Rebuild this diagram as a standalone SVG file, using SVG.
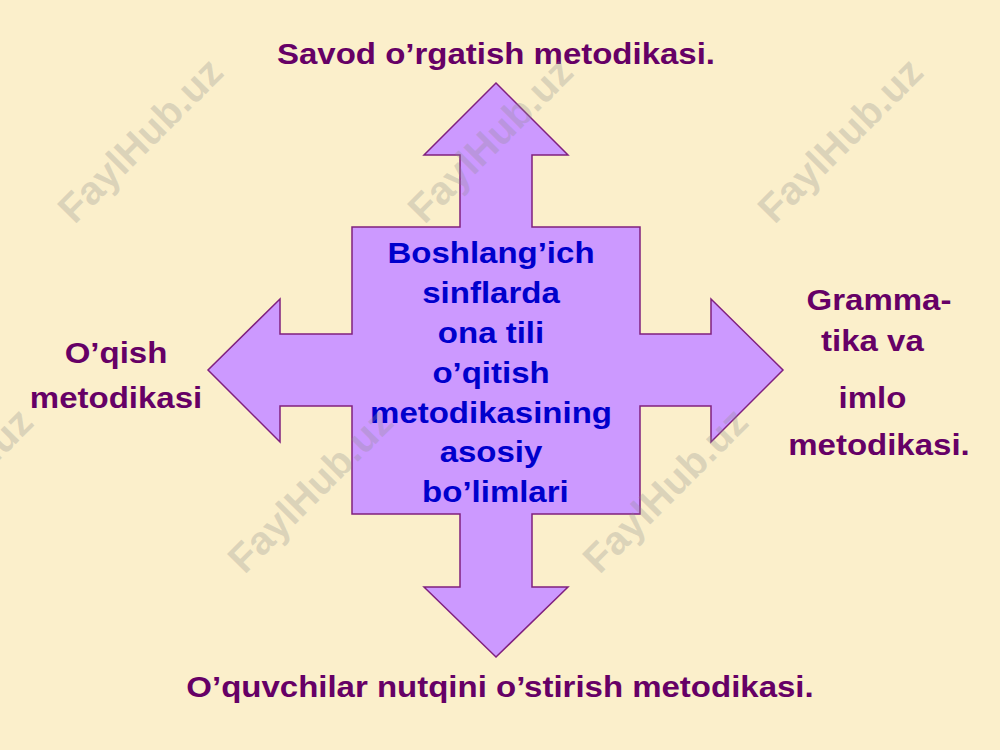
<svg xmlns="http://www.w3.org/2000/svg" width="1000" height="750" viewBox="0 0 1000 750">
  <defs>
    <style>
      .wm { font-family: "Liberation Sans", Arial, sans-serif; font-weight: bold; font-size: 40px; fill: #8C8C8C; fill-opacity: 0.28; text-anchor: middle; }
      .lbl { font-family: "Liberation Sans", Arial, sans-serif; font-weight: bold; font-size: 30px; fill: #660066; text-anchor: middle; }
      .ctr { font-family: "Liberation Sans", Arial, sans-serif; font-weight: bold; font-size: 30px; fill: #0000CC; text-anchor: middle; }
      .shape { fill: #CC99FF; stroke: #80207F; stroke-width: 1.5; stroke-linejoin: miter; }
    </style>
  </defs>
  <rect x="0" y="0" width="1000" height="750" fill="#FBEFCB"/>
  <g id="center">
    <path class="shape" d="M496,83 L568,155 L532,155 L532,227 L640,227 L640,334 L711,334 L711,299 L783,370 L711,442 L711,406 L640,406 L640,514 L532,514 L532,587 L568,587 L496,657 L424,587 L460,587 L460,514 L352,514 L352,406 L280,406 L280,442 L208,370 L280,299 L280,334 L352,334 L352,227 L460,227 L460,155 L424,155 Z"/>
    <g transform="translate(491,0) scale(1.1,1)">
      <text class="ctr" x="0" y="263">Boshlang’ich</text>
      <text class="ctr" x="0" y="303">sinflarda</text>
      <text class="ctr" x="0" y="343">ona tili</text>
      <text class="ctr" x="0" y="383">o’qitish</text>
      <text class="ctr" x="0" y="423">metodikasining</text>
      <text class="ctr" x="0" y="462">asosiy</text>
      <text class="ctr" x="4" y="502">bo’limlari</text>
    </g>
  </g>
  <g id="top-label" transform="translate(496,0) scale(1.1,1)">
    <text class="lbl" x="0" y="64">Savod o’rgatish metodikasi.</text>
  </g>
  <g id="left-label" transform="translate(116,0) scale(1.1,1)">
    <text class="lbl" x="0" y="363">O’qish</text>
    <text class="lbl" x="0" y="408">metodikasi</text>
  </g>
  <g id="right-label" transform="translate(879,0) scale(1.1,1)">
    <text class="lbl" x="0" y="310">Gramma-</text>
    <text class="lbl" x="-6" y="351">tika va</text>
    <text class="lbl" x="-6" y="408">imlo</text>
    <text class="lbl" x="0" y="455">metodikasi.</text>
  </g>
  <g id="bottom-label" transform="translate(500,0) scale(1.1,1)">
    <text class="lbl" x="0" y="697">O’quvchilar nutqini o’stirish metodikasi.</text>
  </g>
  <g id="connectors"/>
  <g id="watermarks">
    <text class="wm" transform="translate(140,140) rotate(-45)" y="14">FaylHub.uz</text>
    <text class="wm" transform="translate(490,140) rotate(-45)" y="14">FaylHub.uz</text>
    <text class="wm" transform="translate(840,140) rotate(-45)" y="14">FaylHub.uz</text>
    <text class="wm" transform="translate(-50,490) rotate(-45)" y="14">FaylHub.uz</text>
    <text class="wm" transform="translate(310,490) rotate(-45)" y="14">FaylHub.uz</text>
    <text class="wm" transform="translate(665,490) rotate(-45)" y="14">FaylHub.uz</text>
  </g>
</svg>
